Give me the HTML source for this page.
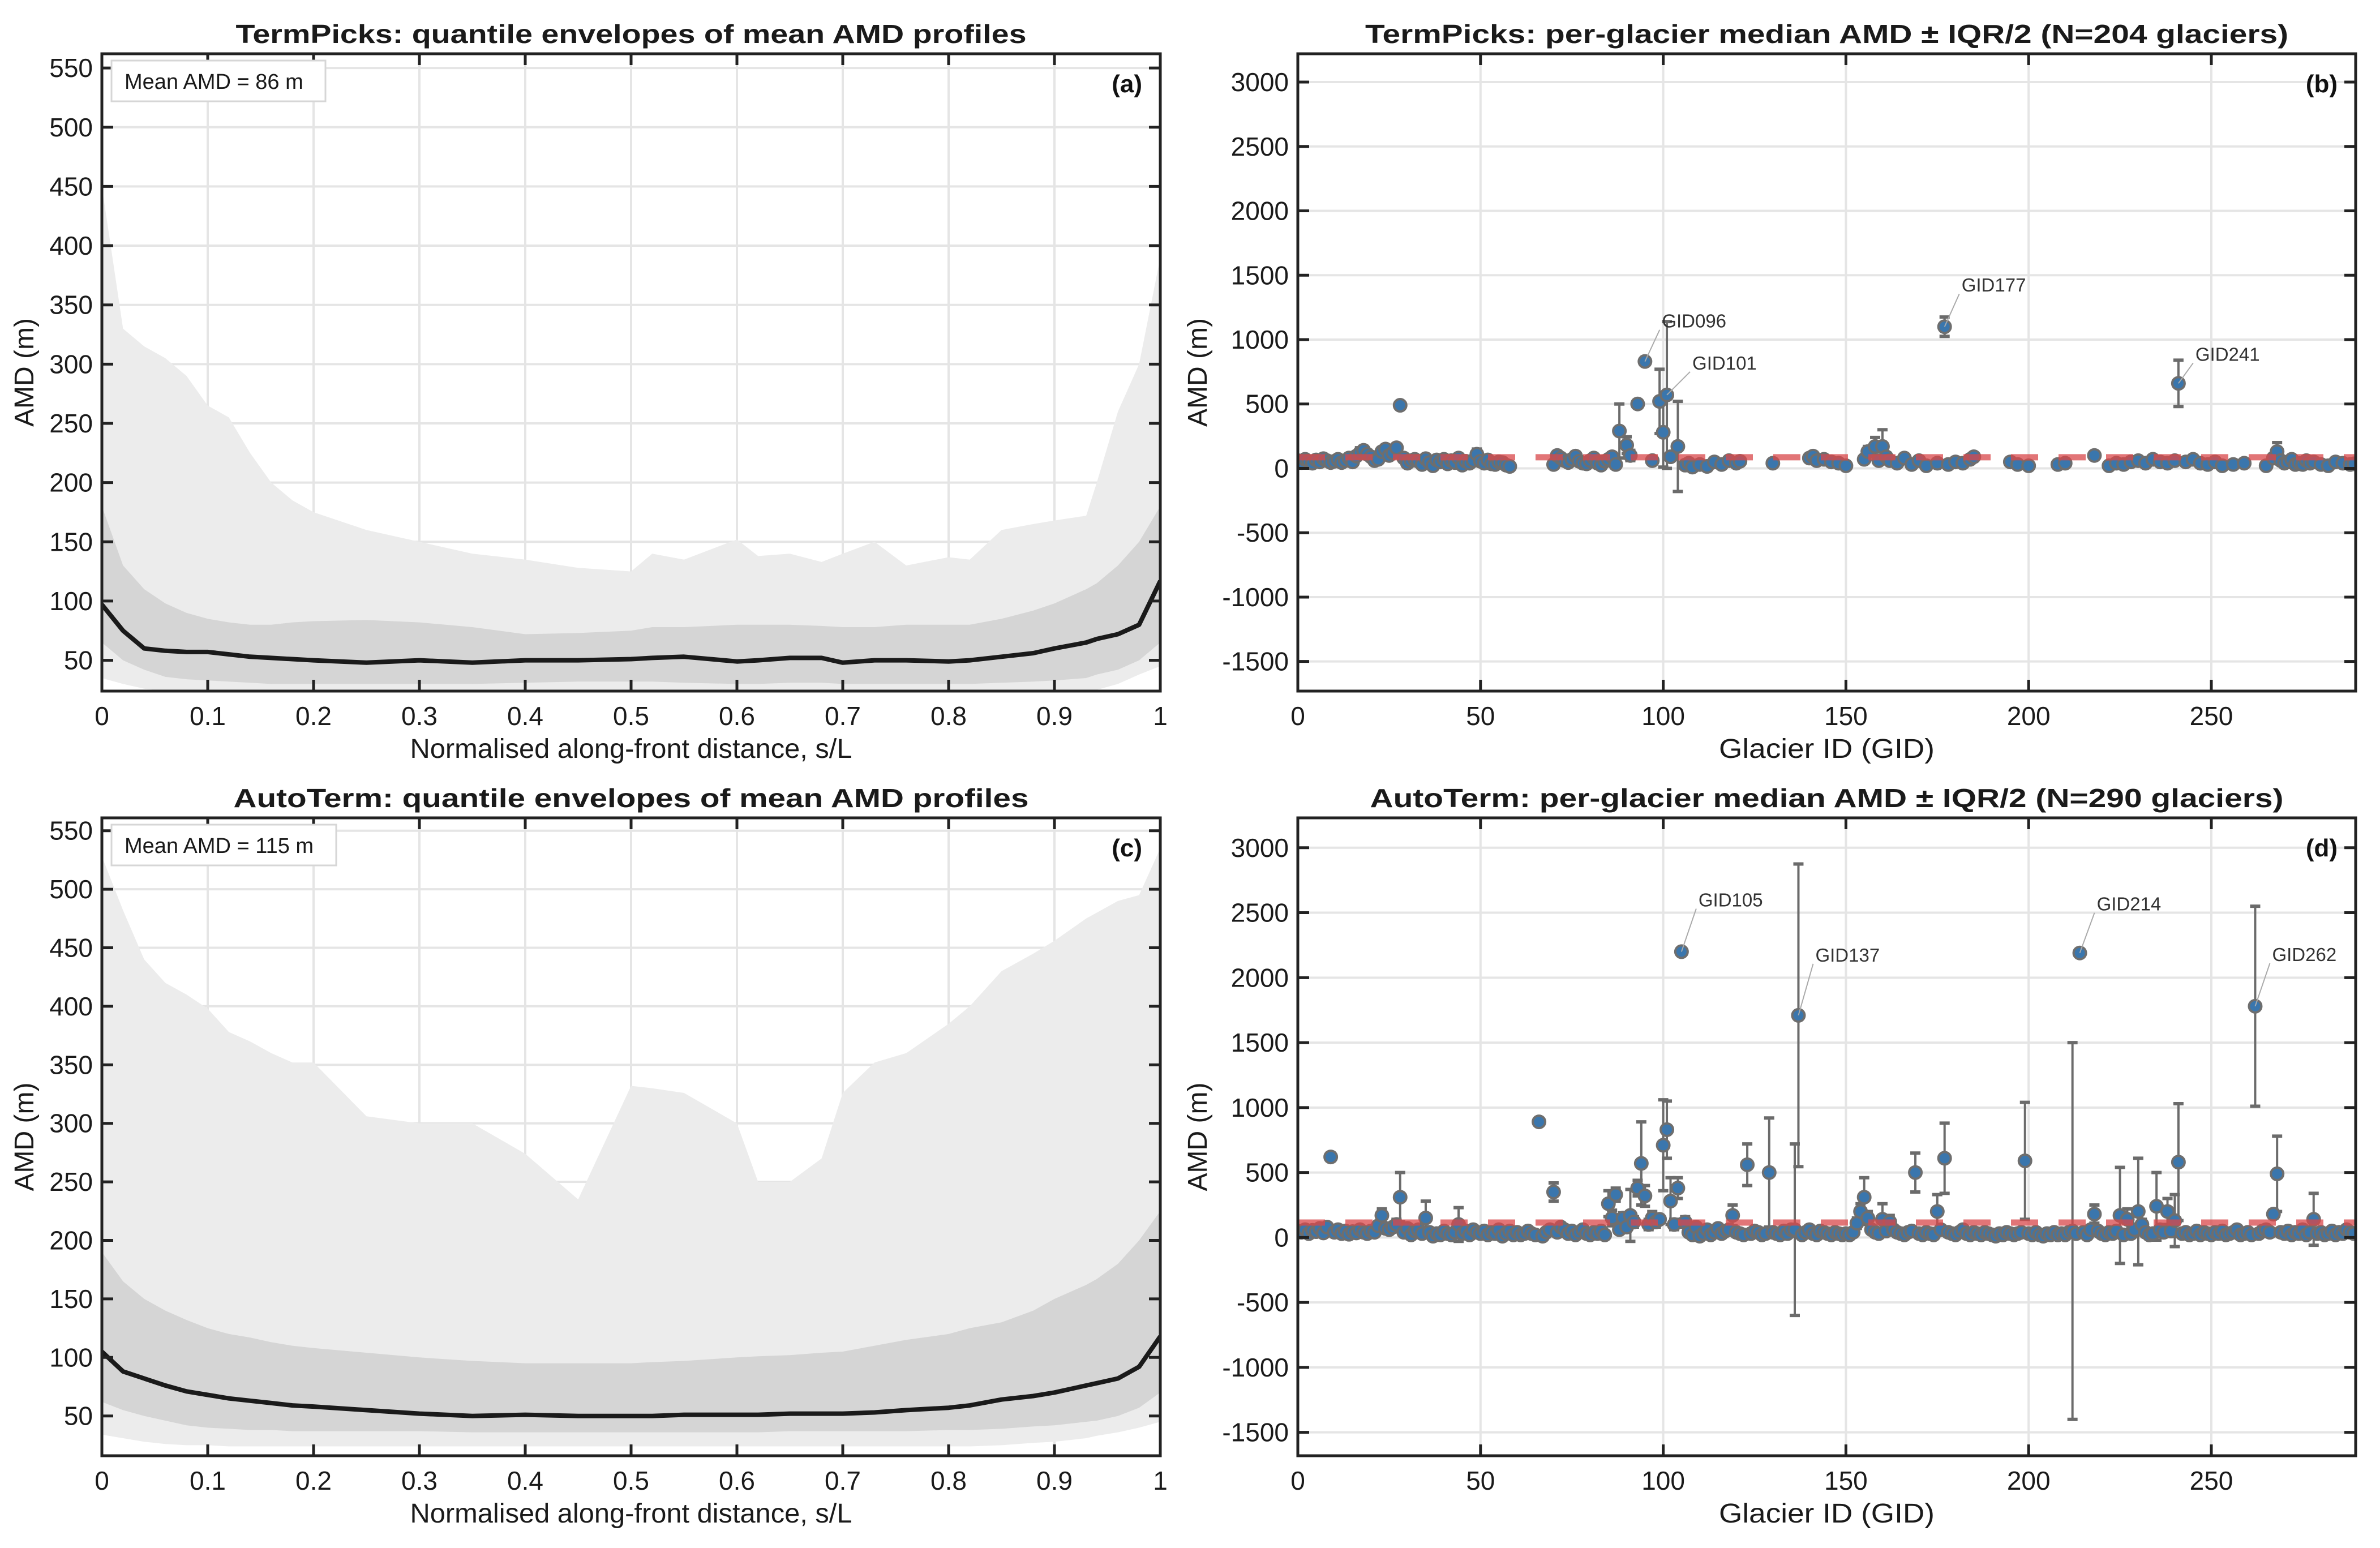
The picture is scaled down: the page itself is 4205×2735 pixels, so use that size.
<!DOCTYPE html>
<html><head><meta charset="utf-8"><style>
html,body{margin:0;padding:0;background:#fff;}
svg{display:block;font-family:"Liberation Sans",Arial,sans-serif;}
</style></head><body>
<svg id="fig" xmlns="http://www.w3.org/2000/svg" width="4205" height="2735" viewBox="0 0 4205 2735"></svg>
<script>
// ---------- Envelope panels data ----------
const envX = [0,0.02,0.04,0.06,0.08,0.1,0.12,0.14,0.16,0.18,0.2,0.25,0.3,0.35,0.4,0.45,0.5,0.52,0.55,0.6,0.62,0.65,0.68,0.7,0.73,0.76,0.8,0.82,0.85,0.88,0.9,0.93,0.94,0.96,0.98,1.0];
const aOuterHi = [450,330,315,305,290,265,255,225,200,185,175,160,150,140,135,128,125,140,135,152,138,140,133,140,150,130,137,135,160,165,168,172,200,260,300,390];
const aInnerHi = [180,130,110,98,90,85,82,80,80,82,83,84,82,78,72,73,75,78,78,80,80,80,79,78,78,80,80,80,85,92,98,110,115,130,150,180];
const aMedian  = [97,75,60,58,57,57,55,53,52,51,50,48,50,48,50,50,51,52,53,49,50,52,52,48,50,50,49,50,53,56,60,65,68,72,80,117];
const aInnerLo = [65,50,42,36,34,33,32,31,30,30,30,30,30,30,31,32,32,32,31,30,30,31,31,30,30,30,30,30,31,32,33,35,38,42,50,65];
const aOuterLo = [35,30,26,24,23,22,22,21,21,21,21,21,21,21,21,21,21,21,21,21,21,21,21,21,21,21,21,21,21,21,22,24,25,30,38,45];
const cOuterHi = [528,482,440,420,410,398,378,370,360,352,352,306,300,300,274,235,332,330,326,300,250,250,270,326,352,360,385,400,430,445,456,475,480,490,495,535];
const cInnerHi = [190,165,150,140,132,125,120,117,113,110,108,104,100,97,95,95,95,96,97,100,101,102,104,105,110,115,120,125,130,140,150,162,167,180,200,225];
const cMedian  = [105,88,82,76,71,68,65,63,61,59,58,55,52,50,51,50,50,50,51,51,51,52,52,52,53,55,57,59,64,67,70,76,78,82,92,118];
const cInnerLo = [62,55,50,46,42,40,39,38,38,37,37,37,37,36,36,36,36,36,36,36,36,37,37,37,37,37,38,38,39,41,42,45,46,50,57,70];
const cOuterLo = [34,31,28,26,25,25,24,24,24,24,24,24,24,24,24,24,24,24,24,24,24,24,24,24,24,24,24,24,25,27,28,31,33,36,40,45];
const envXTicks = [0,0.1,0.2,0.3,0.4,0.5,0.6,0.7,0.8,0.9,1];
const envXTickLabels = ["0","0.1","0.2","0.3","0.4","0.5","0.6","0.7","0.8","0.9","1"];
const envYTicks = [50,100,150,200,250,300,350,400,450,500,550];

// ---------- Scatter (b) TermPicks ----------
const bGid = [0,1,2,3,4,5,6,7,8,9,
 10,11,12,13,14,15,16,17,18,19,
 20,21,22,23,24,25,26,27,28,29,
 30,31,32,33,34,35,36,37,38,39,
 40,41,42,43,44,45,46,47,48,49,
 50,51,52,53,54,55,56,57,58,70,
 71,72,73,74,75,76,77,78,79,80,
 81,82,83,84,85,86,87,88,90,91,
 93,95,97,99,100,101,102,104,106,107,
 108,110,112,114,116,118,120,121,130,140,
 141,142,144,146,148,150,155,156,158,159,
 160,161,162,164,166,168,170,172,175,177,
 178,180,182,184,185,195,197,200,208,210,
 218,222,224,226,228,230,232,234,236,238,
 240,241,243,245,247,249,251,253,256,259,
 265,267,268,269,270,271,272,273,274,275,
 276,277,278,280,282,284,286,288,289];
const bVal = [60,45,70,55,40,65,50,75,60,45,
 55,70,45,60,80,50,95,120,140,110,
 90,60,70,130,150,100,120,160,490,80,
 40,60,70,55,30,75,45,20,65,50,
 70,35,60,45,80,25,55,40,60,110,
 55,40,65,35,30,50,45,25,15,30,
 100,80,60,45,70,95,55,40,35,60,
 80,40,25,55,70,90,30,290,180,100,
 500,830,60,520,280,570,90,170,25,40,
 10,30,15,50,30,60,40,55,40,80,
 95,60,70,50,40,20,70,130,170,60,
 170,90,60,40,80,30,60,20,40,1100,
 30,50,40,70,90,50,30,20,30,40,
 100,20,40,30,50,60,40,70,50,40,
 60,660,50,70,40,30,50,20,30,40,
 20,80,130,60,40,50,70,30,40,30,
 60,40,50,30,20,50,40,30,35];
const bErr = [20,15,20,20,15,20,15,25,20,15,
 20,25,15,20,30,20,30,40,30,30,
 30,20,25,30,30,30,30,20,15,20,
 15,20,25,20,15,25,15,15,20,20,
 25,15,20,15,30,15,20,15,20,40,
 20,15,20,15,15,20,15,15,10,15,
 30,25,20,15,20,30,20,15,15,20,
 25,15,15,20,20,30,15,210,65,40,
 10,20,20,250,270,570,20,350,15,15,
 10,15,10,20,15,20,15,20,15,25,
 30,20,20,20,15,10,20,40,70,20,
 130,30,20,15,25,15,20,10,15,75,
 15,20,15,20,25,20,15,10,15,15,
 20,10,15,15,20,20,15,20,15,15,
 20,180,15,20,15,15,15,10,15,15,
 10,30,70,20,15,20,25,15,15,15,
 20,15,20,15,10,20,15,15,15];
const bMean = 86;
const bLabels = ["GID096","GID101","GID177","GID241"];
const bLabelGid = [95,101,177,241];
const bLabelVal = [830,570,1100,660];

// ---------- Scatter (d) AutoTerm (GID 0..289) ----------
const dVal = [50,40,60,30,55,45,70,35,80,620,
 40,60,30,50,25,45,35,60,40,30,
 50,40,90,170,70,60,80,100,310,40,
 70,20,50,60,30,150,40,10,30,20,
 50,30,20,40,100,30,50,20,60,40,
 30,50,20,40,30,60,10,30,50,20,
 40,20,30,50,30,20,890,10,40,60,
 350,40,80,60,30,50,20,40,60,30,
 20,40,30,50,20,260,150,330,60,150,
 80,170,120,380,570,320,100,150,120,140,
 710,830,280,100,380,2200,120,40,20,80,
 10,30,60,20,40,70,30,50,60,170,
 40,30,20,560,30,50,40,20,30,500,
 40,30,20,50,30,60,60,1710,20,40,
 60,30,20,50,40,30,20,40,30,20,
 30,20,40,110,200,310,150,60,40,30,
 140,50,120,60,40,30,20,40,50,500,
 30,20,40,30,20,200,60,610,40,30,
 20,40,60,30,20,40,30,20,40,30,
 20,10,30,20,40,30,20,30,40,590,
 30,20,40,20,10,30,20,40,20,30,
 20,40,50,30,2190,40,20,60,180,50,
 30,20,40,30,50,170,20,140,30,60,
 200,100,40,20,30,240,60,40,200,50,
 130,580,30,40,20,30,50,20,40,30,
 20,40,30,50,20,30,40,60,20,30,
 40,20,1780,30,50,60,40,180,490,40,
 30,50,20,40,30,60,20,40,140,30,
 40,20,30,50,20,40,30,60,40,30];
const dErr = [20,15,20,15,20,15,25,15,30,30,
 15,20,15,20,10,15,15,20,15,15,
 20,15,30,50,25,20,30,40,190,15,
 25,10,20,20,15,130,15,10,15,10,
 20,15,10,15,130,15,20,10,20,15,
 15,20,10,15,15,20,10,15,20,10,
 15,10,15,20,15,10,20,10,15,20,
 70,15,30,20,15,20,10,15,20,15,
 10,15,15,20,10,100,60,50,20,40,
 30,200,40,60,320,80,40,50,40,30,
 350,220,180,40,80,20,40,15,10,30,
 10,15,20,10,15,30,15,20,20,80,
 15,15,10,160,15,20,15,10,15,420,
 15,15,10,20,15,20,660,1165,10,15,
 20,15,10,20,15,15,10,15,15,10,
 15,10,15,40,60,150,50,20,15,15,
 120,20,50,20,15,15,10,15,20,150,
 15,10,15,15,10,130,20,270,15,15,
 10,15,20,15,10,15,15,10,15,15,
 10,10,15,10,15,15,10,15,15,450,
 15,10,15,10,10,15,10,15,10,15,
 10,15,1450,15,20,15,10,20,70,20,
 15,10,15,15,20,370,10,80,15,20,
 410,40,15,10,15,260,20,15,100,20,
 200,450,15,15,10,15,20,10,15,15,
 10,15,15,20,10,15,15,20,10,15,
 15,10,770,15,20,20,15,30,290,15,
 15,20,10,15,15,20,10,15,200,15,
 15,10,15,20,10,15,15,20,15,15];
const dMean = 115;
const dLabels = ["GID105","GID137","GID214","GID262"];
const dLabelGid = [105,137,214,262];
const dLabelVal = [2200,1710,2190,1780];
const scXTicks = [0,50,100,150,200,250];
const scYTicks = [-1500,-1000,-500,0,500,1000,1500,2000,2500,3000];

// ---------- helpers ----------
const NS = "http://www.w3.org/2000/svg";
const svg = document.getElementById('fig');
function mk(tag, attrs, parent){
  const e = document.createElementNS(NS, tag);
  for (const k in attrs) e.setAttribute(k, attrs[k]);
  (parent||svg).appendChild(e);
  return e;
}
function txt(str, attrs, parent){ const t = mk('text', attrs, parent); t.textContent = str; return t; }

function axesFrame(g, box, xs, xTicks, xLabels, ys, yTicks, yLabels){
  const grid = mk('g', {}, g);
  
  
  xTicks.forEach(v => { const x = xs(v); mk('line', {x1:x, x2:x, y1:box.t, y2:box.b, stroke:'#e5e5e5', 'stroke-width':4}, grid); });
  yTicks.forEach(v => { const y = ys(v); mk('line', {x1:box.l, x2:box.r, y1:y, y2:y, stroke:'#e5e5e5', 'stroke-width':4}, grid); });
}
function axesOverlay(g, box, xs, xTicks, xLabels, ys, yTicks, yLabels){
  const ax = mk('g', {}, g);
  
  
  mk('rect', {x:box.l, y:box.t, width:box.r-box.l, height:box.b-box.t, fill:'none', stroke:'#222', 'stroke-width':5}, ax);
  const tl = 20;
  xTicks.forEach((v,i) => {
    const x = xs(v);
    mk('line', {x1:x, x2:x, y1:box.b, y2:box.b-tl, stroke:'#222','stroke-width':5}, ax);
    mk('line', {x1:x, x2:x, y1:box.t, y2:box.t+tl, stroke:'#222','stroke-width':5}, ax);
    const t = txt(xLabels[i], {x:x, y:box.b+60, 'text-anchor':'middle', 'font-size':46, fill:'#1a1a1a'}, ax);
    
    
  });
  yTicks.forEach((v,i) => {
    const y = ys(v);
    mk('line', {x1:box.l, x2:box.l+tl, y1:y, y2:y, stroke:'#222','stroke-width':5}, ax);
    mk('line', {x1:box.r, x2:box.r-tl, y1:y, y2:y, stroke:'#222','stroke-width':5}, ax);
    const t = txt(yLabels[i], {x:box.l-16, y:y+16, 'text-anchor':'end', 'font-size':46, fill:'#1a1a1a'}, ax);
    
    
  });
}
function titles(g, box, title, titleW, xTitle, xTitleW, yTitle, letter, yOff){
  const t = txt(title, {x:(box.l+box.r)/2, y:box.t-19, 'text-anchor':'middle', 'font-size':46, 'font-weight':'bold', fill:'#1a1a1a', textLength:titleW, lengthAdjust:'spacingAndGlyphs'}, g);
  
  
  const xt = txt(xTitle, {x:(box.l+box.r)/2, y:box.b+118, 'text-anchor':'middle', 'font-size':48, fill:'#1a1a1a', textLength:xTitleW, lengthAdjust:'spacingAndGlyphs'}, g);
  
  
  const cy = (box.t+box.b)/2;
  const yt = txt(yTitle, {x:0, y:0, 'text-anchor':'middle', 'font-size':48, fill:'#1a1a1a', transform:`translate(${box.l-yOff},${cy}) rotate(-90)`}, g);
  
  
  const lt = txt(letter, {x:box.r-32, y:box.t+68, 'text-anchor':'end', 'font-size':44, 'font-weight':'bold', fill:'#111'}, g);
  
  
}

function envelopePanel(id, box, ymin, ymax, oHi, iHi, med, iLo, oLo, title, titleW, meanText, boxW, letter){
  const g = mk('g', {});
  
  
  const xs = v => box.l + v*(box.r-box.l);
  const ys = v => box.b - (v-ymin)/(ymax-ymin)*(box.b-box.t);
  const clipId = id + '-clip';
  const cp = mk('clipPath', {id:clipId}, g);
  mk('rect', {x:box.l, y:box.t, width:box.r-box.l, height:box.b-box.t}, cp);
  axesFrame(g, box, xs, envXTicks, envXTickLabels, ys, envYTicks, envYTicks.map(String));
  const plot = mk('g', {'clip-path':`url(#${clipId})`}, g);
  function band(hi, lo, fill, name){
    let d = '';
    envX.forEach((x,i) => { d += (i?'L':'M') + xs(x).toFixed(1) + ',' + ys(hi[i]).toFixed(1); });
    for (let i = envX.length-1; i >= 0; i--) d += 'L' + xs(envX[i]).toFixed(1) + ',' + ys(lo[i]).toFixed(1);
    const p = mk('path', {d:d+'Z', fill:fill, stroke:'none'}, plot);
    
    
  }
  band(oHi, oLo, '#ececec', 'outer-quantile-band');
  band(iHi, iLo, '#d5d5d5', 'inner-quantile-band');
  let d = '';
  envX.forEach((x,i) => { d += (i?'L':'M') + xs(x).toFixed(1) + ',' + ys(med[i]).toFixed(1); });
  const ml = mk('path', {d:d, fill:'none', stroke:'#1a1a1a', 'stroke-width':8, 'stroke-linejoin':'round'}, plot);
  
  
  axesOverlay(g, box, xs, envXTicks, envXTickLabels, ys, envYTicks, envYTicks.map(String));
  const lg = mk('g', {}, g);
  
  
  mk('rect', {x:box.l+17, y:box.t+12, width:boxW, height:72, fill:'#fff', stroke:'#d6d6d6', 'stroke-width':3}, lg);
  txt(meanText, {x:box.l+40, y:box.t+62, 'font-size':38, fill:'#1a1a1a'}, lg);
  titles(g, box, title, titleW, 'Normalised along-front distance, s/L', 781, 'AMD (m)', letter, 121);
}

function scatterPanel(id, box, ymin, ymax, xmax, gids, vals, errs, mean, labels, lGid, lVal, lOff, title, titleW, letter){
  const g = mk('g', {});
  
  
  const xs = v => box.l + v/xmax*(box.r-box.l);
  const ys = v => box.b - (v-ymin)/(ymax-ymin)*(box.b-box.t);
  const clipId = id + '-clip';
  const cp = mk('clipPath', {id:clipId}, g);
  mk('rect', {x:box.l, y:box.t, width:box.r-box.l, height:box.b-box.t}, cp);
  axesFrame(g, box, xs, scXTicks, scXTicks.map(String), ys, scYTicks, scYTicks.map(String));
  const plot = mk('g', {'clip-path':`url(#${clipId})`}, g);
  const eb = mk('g', {stroke:'#6b6b6b', 'stroke-width':4}, plot);
  
  
  vals.forEach((v,i) => {
    const x = xs(gids[i]), y1 = ys(v+errs[i]), y2 = ys(v-errs[i]);
    mk('line', {x1:x, x2:x, y1:y1, y2:y2}, eb);
    mk('line', {x1:x-9, x2:x+9, y1:y1, y2:y1, 'stroke-width':6}, eb);
    mk('line', {x1:x-9, x2:x+9, y1:y2, y2:y2, 'stroke-width':6}, eb);
  });
  const pts = mk('g', {}, plot);
  
  
  vals.forEach((v,i) => {
    const c = mk('circle', {cx:xs(gids[i]), cy:ys(v), r:11, fill:'#3a76ad', stroke:'#6e6e6e', 'stroke-width':4}, pts);
    
    
  });
  const ml = mk('line', {x1:box.l, x2:box.r, y1:ys(mean), y2:ys(mean), stroke:'#d9484a', 'stroke-width':11, 'stroke-dasharray':'48 36', opacity:0.75}, plot);
  
  
  labels.forEach((s,i) => {
    const px = xs(lGid[i]), py = ys(lVal[i]);
    const lx = px + lOff[i][0], ly = py + lOff[i][1];
    mk('line', {x1:px, y1:py, x2:lx-4, y2:ly+4, stroke:'#aaa', 'stroke-width':2}, g);
    const t = txt(s, {x:lx, y:ly, 'font-size':33, fill:'#333'}, g);
    
    
  });
  axesOverlay(g, box, xs, scXTicks, scXTicks.map(String), ys, scYTicks, scYTicks.map(String));
  titles(g, box, title, titleW, 'Glacier ID (GID)', 381, 'AMD (m)', letter, 161);
}

envelopePanel('panel-a', {l:180, r:2050, t:95, b:1221}, 24, 562, aOuterHi, aInnerHi, aMedian, aInnerLo, aOuterLo,
  'TermPicks: quantile envelopes of mean AMD profiles', 1397, 'Mean AMD = 86 m', 378, '(a)');
envelopePanel('panel-c', {l:180, r:2050, t:1445, b:2572}, 16, 561, cOuterHi, cInnerHi, cMedian, cInnerLo, cOuterLo,
  'AutoTerm: quantile envelopes of mean AMD profiles', 1405, 'Mean AMD = 115 m', 397, '(c)');
const dGid = dVal.map((v,i) => i);
scatterPanel('panel-b', {l:2293, r:4162, t:95, b:1221}, -1730, 3220, 289.5, bGid, bVal, bErr, bMean, bLabels, bLabelGid, bLabelVal,
  [[30,-60],[45,-45],[30,-62],[30,-40]],
  'TermPicks:  per-glacier  median  AMD   \u00b1  IQR/2  (N=204  glaciers)', 1631, '(b)');
scatterPanel('panel-d', {l:2293, r:4162, t:1445, b:2572}, -1680, 3230, 289.5, dGid, dVal, dErr, dMean, dLabels, dLabelGid, dLabelVal,
  [[30,-80],[30,-95],[30,-75],[30,-80]],
  'AutoTerm:  per-glacier  median  AMD   \u00b1  IQR/2  (N=290  glaciers)', 1614, '(d)');
</script>
</body></html>
